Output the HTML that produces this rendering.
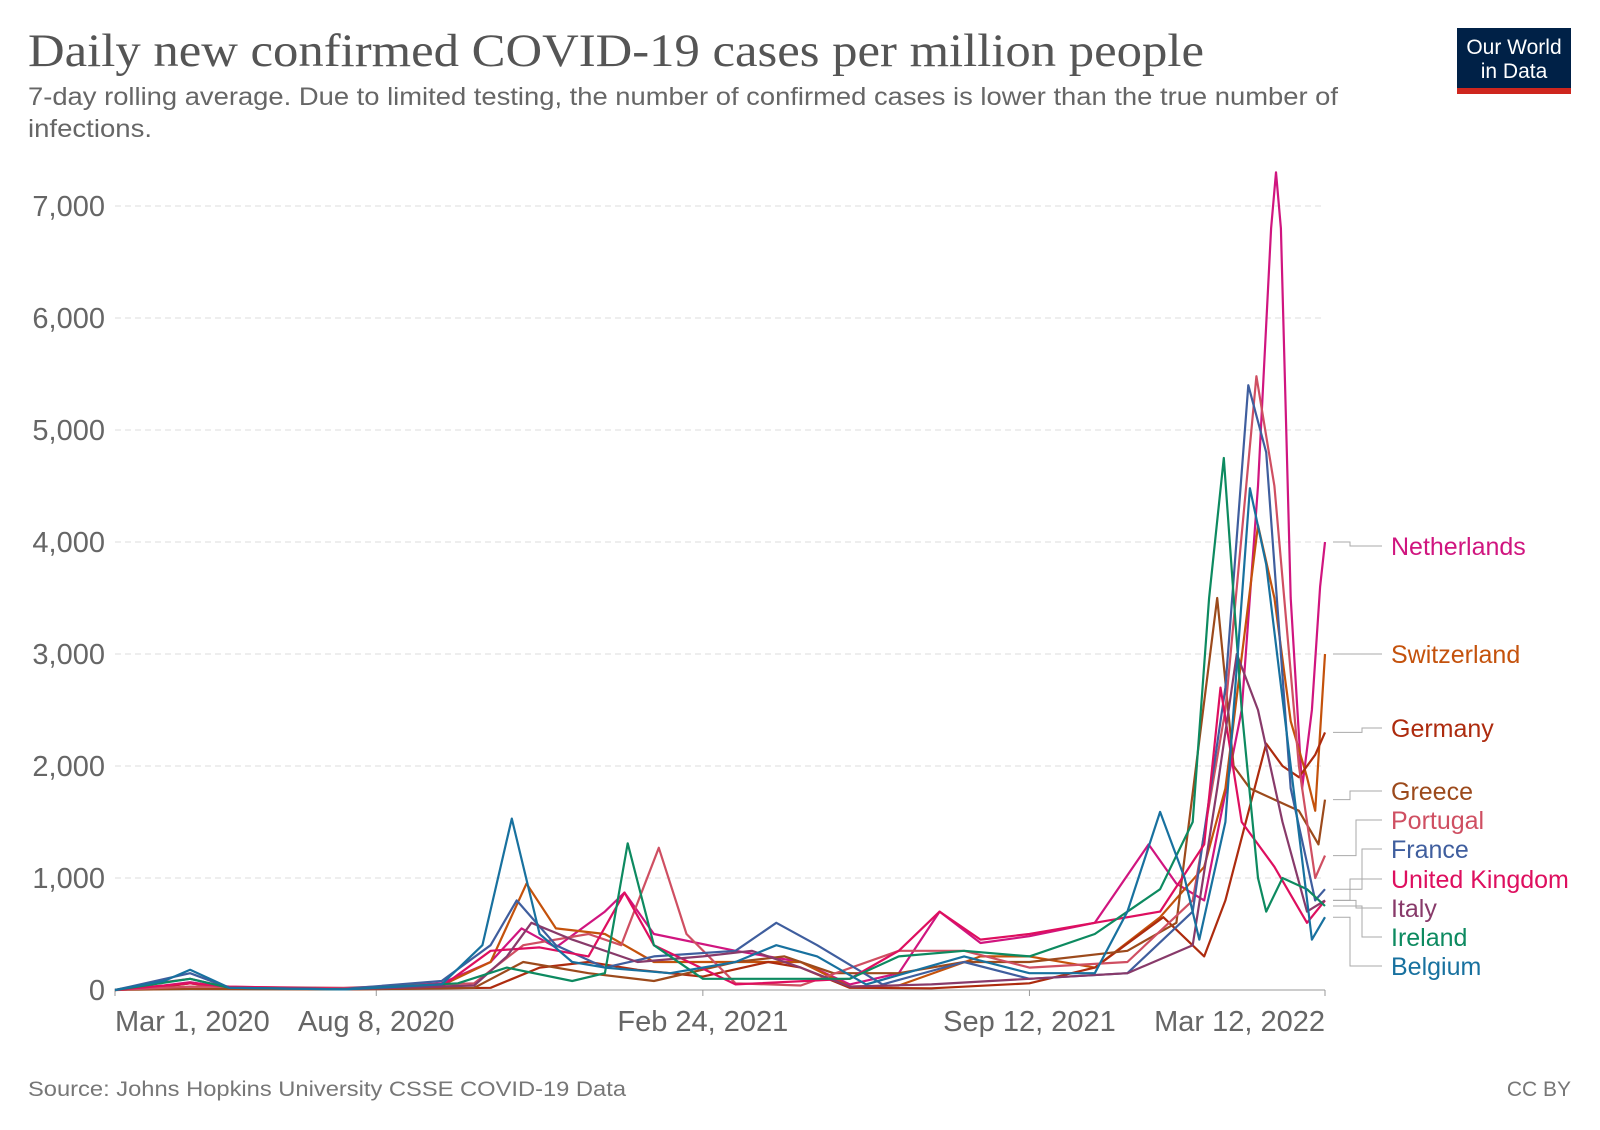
<!DOCTYPE html>
<html><head><meta charset="utf-8"><style>
body{margin:0;background:#fff;}
svg{display:block;font-family:"Liberation Sans",sans-serif;}
</style></head><body>
<svg id="chart" width="1600" height="1130">
<text x="28" y="66" font-family="Liberation Serif,serif" font-size="47" fill="#555" textLength="1176" lengthAdjust="spacingAndGlyphs">Daily new confirmed COVID-19 cases per million people</text>
<text x="28" y="105" font-size="25" fill="#666" textLength="1310" lengthAdjust="spacingAndGlyphs">7-day rolling average. Due to limited testing, the number of confirmed cases is lower than the true number of</text>
<text x="28" y="137" font-size="25" fill="#666" textLength="124" lengthAdjust="spacingAndGlyphs">infections.</text>
<g>
<rect x="1457" y="28" width="114" height="66" fill="#002147"/>
<rect x="1457" y="88" width="114" height="6" fill="#ce261e"/>
<text x="1514" y="54" text-anchor="middle" font-size="21" fill="#fff">Our World</text>
<text x="1514" y="78" text-anchor="middle" font-size="21" fill="#fff">in Data</text>
</g>
<g id="grid"></g><g id="series"></g><g id="labels"></g>
<text x="28" y="1096" font-size="21" fill="#777" textLength="598" lengthAdjust="spacingAndGlyphs">Source: Johns Hopkins University CSSE COVID-19 Data</text>
<text x="1571" y="1096" text-anchor="end" font-size="21" fill="#777">CC BY</text>
</svg>
<script>
const yTicks=[0,1000,2000,3000,4000,5000,6000,7000];
const xTickDays=[0,160,360,560,741];
const xTickLabels=["Mar 1, 2020","Aug 8, 2020","Feb 24, 2021","Sep 12, 2021","Mar 12, 2022"];
const countries=["Netherlands","Switzerland","Germany","Greece","Portugal","France","United Kingdom","Italy","Ireland","Belgium"];
const colors=["#d0157f","#c4520c","#ad2b0e","#9c4a1c","#cf4f62","#3f5e9e","#de0f5f","#883a6a","#0d8a60","#18719f"];
const labelY=[555,663,737,800,829,858,888,917,946,975];
const daysNetherlands=[0,30,46,70,140,200,230,249,270,300,312,330,380,420,450,480,505,530,560,600,633,650,667,690,700,708,711,714,720,727,733,738,741];
const valuesNetherlands=[0,40,70,20,10,60,250,550,380,700,870,500,350,250,50,150,700,420,480,600,1300,950,800,2500,4500,6800,7300,6800,3500,1800,2500,3600,4000];
const daysSwitzerland=[0,30,46,70,140,200,230,252,270,300,330,380,420,450,480,530,560,600,640,667,680,700,710,720,730,735,741];
const valuesSwitzerland=[0,30,60,15,10,40,250,950,550,500,250,250,250,30,40,300,300,200,650,1100,1800,4150,3500,2400,1900,1600,3000];
const daysGermany=[0,30,46,70,140,230,260,290,320,360,400,420,450,500,560,600,642,667,680,705,715,725,735,741];
const valuesGermany=[0,30,60,20,5,20,200,250,180,120,250,200,20,15,60,200,650,300,800,2200,2000,1900,2100,2300];
const daysGreece=[0,46,140,220,250,290,330,380,410,440,480,520,560,620,650,675,685,695,710,725,737,741];
const valuesGreece=[0,10,5,20,250,150,80,250,300,150,150,250,250,350,600,3500,2000,1800,1700,1600,1300,1700];
const daysPortugal=[0,46,140,220,250,290,310,333,350,380,420,480,520,560,620,660,680,699,710,725,735,741];
const valuesPortugal=[0,30,20,60,400,500,400,1270,500,60,40,350,350,200,250,800,2500,5480,4500,2000,1000,1200];
const daysFrance=[0,46,70,140,200,230,246,270,300,330,380,405,430,470,520,560,620,660,680,694,705,720,735,741];
const valuesFrance=[0,150,20,10,80,400,800,400,200,300,350,600,400,50,250,100,150,700,2700,5400,4800,1800,800,900];
const daysUK=[0,46,70,140,200,230,260,290,312,330,380,450,480,505,530,560,600,640,667,677,690,710,730,741];
const valuesUK=[0,60,30,10,30,350,380,300,870,400,50,100,350,700,450,500,600,700,1300,2700,1500,1100,600,800];
const daysItaly=[0,20,46,70,140,220,240,255,280,320,360,390,420,450,500,560,620,660,675,687,700,715,730,741];
const valuesItaly=[0,50,100,20,5,40,300,600,450,250,300,350,200,30,50,100,150,400,1800,3000,2500,1500,700,800];
const daysIreland=[0,46,70,140,210,240,280,300,314,330,360,400,450,480,520,560,600,640,660,670,679,690,700,705,715,730,741];
const valuesIreland=[0,100,20,5,60,200,80,150,1310,400,100,100,100,300,350,300,500,900,1500,3500,4750,2500,1000,700,1000,900,750];
const daysBelgium=[0,30,46,70,140,200,225,243,260,280,300,340,380,405,430,460,520,560,600,620,640,655,664,680,695,705,720,733,741];
const valuesBelgium=[0,80,180,20,5,50,400,1530,500,250,200,150,250,400,300,50,300,150,150,700,1590,1000,450,1500,4480,3800,2000,450,650];
const seriesDays=[daysNetherlands,daysSwitzerland,daysGermany,daysGreece,daysPortugal,daysFrance,daysUK,daysItaly,daysIreland,daysBelgium];
const seriesValues=[valuesNetherlands,valuesSwitzerland,valuesGermany,valuesGreece,valuesPortugal,valuesFrance,valuesUK,valuesItaly,valuesIreland,valuesBelgium];
const NS="http://www.w3.org/2000/svg";
const X0=115,X1=1325,Y0=990,Y1=206,DMAX=741,VMAX=7000;
function xs(d){return X0+d*(X1-X0)/DMAX;}
function ys(v){return Y0-v*(Y0-Y1)/VMAX;}
function mk(tag,attrs,parent){const e=document.createElementNS(NS,tag);for(const k in attrs)e.setAttribute(k,attrs[k]);parent.appendChild(e);return e;}
const grid=document.getElementById('grid');
yTicks.forEach(t=>{
  if(t>0){const l=mk('line',{x1:X0,x2:X1,y1:ys(t),y2:ys(t),stroke:'#ddd','stroke-dasharray':'6,4'},grid);
  
  }
  const tx=mk('text',{x:105,y:ys(t)+10,'text-anchor':'end','font-size':29,fill:'#666'},grid);
  tx.textContent=t.toLocaleString('en-US');
  
  
});
const ax=mk('line',{x1:X0,x2:X1,y1:Y0,y2:Y0,stroke:'#999'},grid);


xTickDays.forEach((d,i)=>{
  const tk=mk('line',{x1:xs(d),x2:xs(d),y1:Y0,y2:Y0+6,stroke:'#999'},grid);
  
  
  const anchor=i==0?'start':(i==xTickDays.length-1?'end':'middle');
  const tx=mk('text',{x:xs(d),y:Y0+41,'text-anchor':anchor,'font-size':29,fill:'#666'},grid);
  tx.textContent=xTickLabels[i];
  
  
});
const sg=document.getElementById('series'),lg=document.getElementById('labels');
countries.forEach((c,i)=>{
  const dd=seriesDays[i],vv=seriesValues[i];
  const pts=dd.map((d,j)=>xs(d).toFixed(1)+','+ys(vv[j]).toFixed(1)).join(' ');
  const p=mk('polyline',{points:pts,fill:'none',stroke:colors[i],'stroke-width':2.2,'stroke-linejoin':'round'},sg);
  
  
  const endY=ys(vv[vv.length-1]);
  const ly=labelY[i];
  const lead=mk('polyline',{points:`${X1+8},${endY} ${1350+(i%3)*6},${endY} ${1350+(i%3)*6},${ly-9} 1382,${ly-9}`,fill:'none',stroke:'#aaa','stroke-width':1},lg);
  
  
  const t=mk('text',{x:1391,y:ly,'font-size':25,fill:colors[i]},lg);
  t.textContent=c;
  
  
});
</script>
</body></html>
